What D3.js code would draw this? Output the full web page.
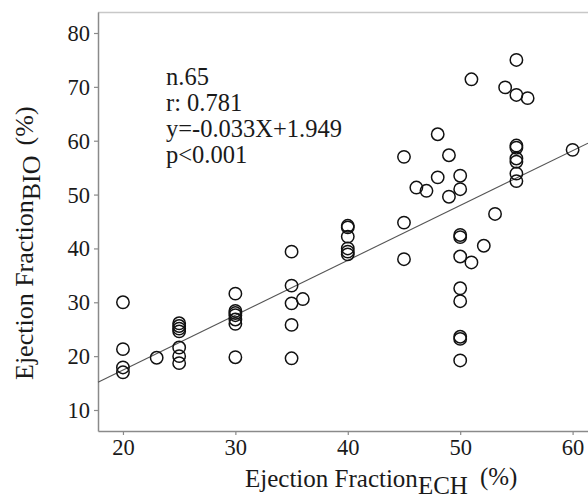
<!DOCTYPE html>
<html>
<head>
<meta charset="utf-8">
<script src="https://cdn.jsdelivr.net/npm/d3@7"></script>
<style>
  html, body { margin: 0; padding: 0; background: #fff; }
  svg { display: block; font-family: "Liberation Serif", "Times New Roman", serif; }
</style>
</head>
<body>
<svg id="chart" width="588" height="499"></svg>
<script>
// Ejection fraction measured by echocardiography (x) and bioimpedance (y), %
const efECH = [
  20, 20, 20, 20,
  23,
  25, 25, 25, 25, 25, 25, 25,
  30, 30, 30, 30, 30, 30, 30,
  35, 35, 35, 35, 35,
  36,
  40, 40, 40, 40, 40, 40,
  45, 45, 45,
  46.1, 47,
  48, 48,
  49, 49,
  50, 50, 50, 50, 50, 50, 50, 50, 50, 50,
  51, 51,
  52.1, 53.1, 54,
  55, 55, 55, 55, 55, 55, 55, 55,
  56, 60
];
const efBIO = [
  30.0, 21.3, 17.9, 17.0,
  19.7,
  26.1, 25.6, 25.1, 24.6, 21.6, 20.0, 18.7,
  31.6, 28.4, 28.0, 27.6, 26.8, 26.0, 19.8,
  39.4, 33.1, 29.8, 25.8, 19.6,
  30.6,
  44.2, 43.9, 42.2, 40.0, 39.4, 38.9,
  57.0, 44.8, 38.0,
  51.3, 50.7,
  61.2, 53.2,
  57.3, 49.6,
  53.5, 51.0, 42.5, 42.1, 38.5, 32.6, 30.2, 23.6, 23.2, 19.2,
  71.4, 37.4,
  40.5, 46.4, 69.9,
  75.0, 68.5, 59.1, 58.7, 56.7, 56.1, 53.9, 52.5,
  67.9, 58.3
];

// Fitted line drawn across the plot (slope, intercept in chart units)
const fitSlope = 1.018;
const fitIntercept = -2.93;

const xTicks = [20, 30, 40, 50, 60];
const yTicks = [10, 20, 30, 40, 50, 60, 70, 80];

const statLines = ["n.65", "r: 0.781", "y=-0.033X+1.949", "p<0.001"];

const svg = d3.select("#chart");

const plotLeft = 98, plotRight = 588, plotTop = 12, plotBottom = 431;
const x = d3.scaleLinear().domain([17.78, 61.37]).range([plotLeft, plotRight]);
const y = d3.scaleLinear().domain([6.1, 83.9]).range([plotBottom, plotTop]);

// top frame line
svg.append("line")
  .attr("x1", plotLeft).attr("x2", plotRight)
  .attr("y1", plotTop + 0.5).attr("y2", plotTop + 0.5)
  .attr("stroke", "#c8c8c8").attr("stroke-width", 1.5);

// axes
const xAxis = svg.append("g")
  .attr("transform", `translate(0,${plotBottom})`)
  .call(d3.axisBottom(x).tickValues(xTicks).tickSizeInner(4).tickSizeOuter(0).tickPadding(4));
const yAxis = svg.append("g")
  .attr("transform", `translate(${plotLeft},0)`)
  .call(d3.axisLeft(y).tickValues(yTicks).tickSizeInner(4).tickSizeOuter(0).tickPadding(4));

[xAxis, yAxis].forEach(g => {
  g.select(".domain").attr("stroke", "#8a8a8a").attr("stroke-width", 1.5);
  g.selectAll(".tick line").attr("stroke", "#8a8a8a").attr("stroke-width", 1.2);
  g.selectAll(".tick text")
    .attr("fill", "#1a1a1a")
    .style("font-family", "'Liberation Serif', 'Times New Roman', serif")
    .style("font-size", "22.5px");
});
xAxis.selectAll(".tick text").attr("dy", "0.71em");
yAxis.selectAll(".tick text").attr("dy", "0.33em");

// regression line
const xd = x.domain();
svg.append("line")
  .attr("x1", x(xd[0])).attr("y1", y(fitSlope * xd[0] + fitIntercept))
  .attr("x2", x(xd[1])).attr("y2", y(fitSlope * xd[1] + fitIntercept))
  .attr("stroke", "#555").attr("stroke-width", 1.1);

// points
svg.append("g")
  .selectAll("circle")
  .data(efECH.map((v, i) => [v, efBIO[i]]))
  .join("circle")
  .attr("cx", d => x(d[0]))
  .attr("cy", d => y(d[1]))
  .attr("r", 6.2)
  .attr("fill", "none")
  .attr("stroke", "#111")
  .attr("stroke-width", 1.5);

// statistics block
svg.append("g")
  .selectAll("text")
  .data(statLines)
  .join("text")
  .attr("x", 166)
  .attr("y", (d, i) => 85 + i * 26)
  .attr("fill", "#1a1a1a")
  .style("font-size", "24.5px")
  .text(d => d);

// x-axis title
const xt = svg.append("text")
  .attr("x", 245).attr("y", 487)
  .attr("fill", "#1a1a1a")
  .style("font-size", "25px");
xt.append("tspan").text("Ejection Fraction");
xt.append("tspan").attr("dy", 7).text("ECH");
xt.append("tspan").attr("dy", -9).attr("dx", 12).text("(%)");

// y-axis title
const yt = svg.append("text")
  .attr("transform", "translate(33,380) rotate(-90)")
  .attr("fill", "#1a1a1a")
  .style("font-size", "26px");
yt.append("tspan").text("Ejection Fraction");
yt.append("tspan").attr("dy", 7).text("BIO");
yt.append("tspan").attr("dy", -7).attr("dx", 10).text("(%)");
</script>
</body>
</html>
